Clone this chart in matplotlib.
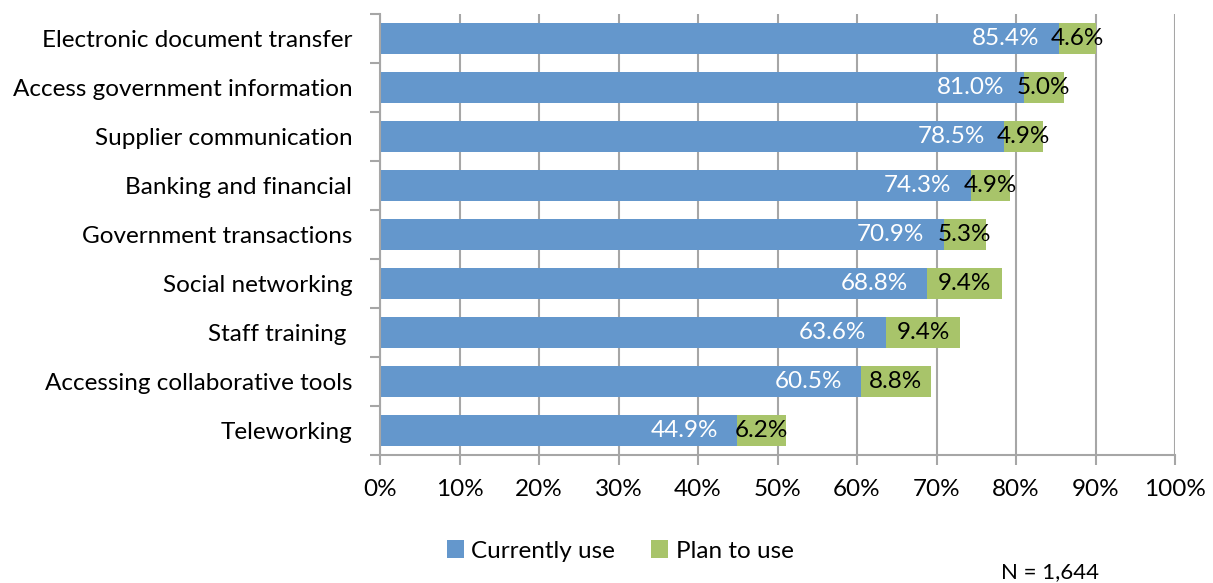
import numpy as np
import matplotlib
matplotlib.use("Agg")
import matplotlib.pyplot as plt

plt.rcParams["font.family"] = ["Lato", "DejaVu Sans"]

# survey categories, top to bottom
categories = ["Electronic document transfer", "Access government information",
              "Supplier communication", "Banking and financial",
              "Government transactions", "Social networking", "Staff training ",
              "Accessing collaborative tools", "Teleworking"]
currently_use = [85.4, 81.0, 78.5, 74.3, 70.9, 68.8, 63.6, 60.5, 44.9]
plan_to_use = [4.6, 5.0, 4.9, 4.9, 5.3, 9.4, 9.4, 8.8, 6.2]
x_ticks = list(range(0, 101, 10))

BLUE = "#6497CC"
GREEN = "#A8C46A"
GRID = "#A6A6A6"
FS = 17.5

fig = plt.figure(figsize=(12.13, 5.83), dpi=100)
ax = fig.add_axes([380 / 1213, 1 - 455 / 583, 795 / 1213, 441 / 583])

n = len(categories)
y = np.arange(n)
h = 0.62
ax.barh(y, currently_use, height=h, color=BLUE, label="Currently use", zorder=2)
ax.barh(y, plan_to_use, left=currently_use, height=h, color=GREEN,
        label="Plan to use", zorder=2)

for yi, c, p in zip(y, currently_use, plan_to_use):
    ax.text(c - 2.4, yi, f"{c:.1f}%", ha="right", va="center",
            color="white", fontsize=FS, zorder=3)
    ax.text(c + p / 2, yi, f"{p:.1f}%", ha="center", va="center",
            color="black", fontsize=FS, zorder=3)

ax.set_xlim(0, 100)
ax.set_ylim(n - 0.5, -0.5)
ax.set_xticks(x_ticks)
ax.set_xticklabels([f"{t}%" for t in x_ticks], fontsize=FS)
ax.xaxis.grid(True, color=GRID, lw=1.5, zorder=0)

# category boundary ticks on the left spine, labels centred on the bars
ax.set_yticks(np.arange(-0.5, n, 1.0))
ax.set_yticklabels([])
ax.set_yticks(y, minor=True)
ax.set_yticklabels(categories, minor=True, fontsize=FS)
ax.tick_params(axis="y", which="major", length=7, width=1.5, color=GRID)
ax.tick_params(axis="y", which="minor", length=0, pad=20)
ax.tick_params(axis="x", length=7, width=1.5, color=GRID, pad=10)

for s in ("top", "right"):
    ax.spines[s].set_visible(False)
for s in ("left", "bottom"):
    ax.spines[s].set_color(GRID)
    ax.spines[s].set_linewidth(1.5)

fig.legend(loc="center", bbox_to_anchor=(620 / 1213, 1 - 551 / 583), ncol=2,
           frameon=False, fontsize=FS, handlelength=0.7, handleheight=0.7,
           handletextpad=0.3, columnspacing=1.5)
fig.text(1050 / 1213, 1 - 572 / 583, "N = 1,644", ha="center", va="center",
         fontsize=16)

fig.savefig("out.png", dpi=100)
